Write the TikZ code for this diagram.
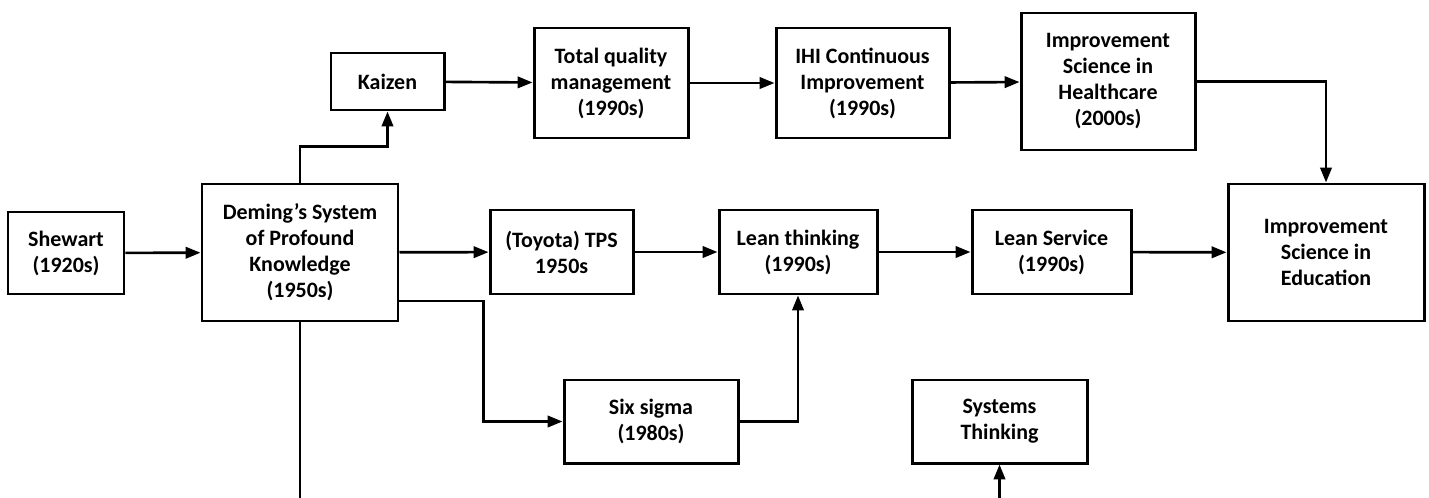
\documentclass[tikz,border=0pt]{standalone}
\usepackage{fontspec}
\setmainfont{Carlito}
\usetikzlibrary{arrows.meta}

\begin{document}
\begin{tikzpicture}[x=0.02cm, y=-0.02cm,
  box/.style={draw, line width=1.7pt, align=center, inner sep=0pt,
    font=\bfseries\fontsize{12.5}{14.8}\selectfont},
  link/.style={line width=1.5pt, -{Triangle[length=8.5pt,width=6.5pt]}}]%
\useasboundingbox (0, 0) rectangle (1429, 497);%
\node[box, minimum width=116*0.02cm, minimum height=82*0.02cm] (shewart) at (66, 253) {Shewart\\(1920s)};%
\node[box, minimum width=196*0.02cm, minimum height=137*0.02cm] (deming) at (300, 252.5) {Deming’s System\\of Profound\\Knowledge\\(1950s)};%
\node[box, minimum width=113*0.02cm, minimum height=57*0.02cm] (kaizen) at (387.5, 81.5) {Kaizen};%
\node[box, minimum width=154*0.02cm, minimum height=110*0.02cm] (tqm) at (611, 83) {Total quality\\management\\(1990s)};%
\node[box, minimum width=173*0.02cm, minimum height=110*0.02cm] (ihi) at (862.5, 83) {IHI Continuous\\Improvement\\(1990s)};%
\node[box, minimum width=174*0.02cm, minimum height=137*0.02cm] (health) at (1108, 81.5) {Improvement\\Science in\\Healthcare\\(2000s)};%
\node[box, minimum width=143*0.02cm, minimum height=84*0.02cm] (tps) at (561.5, 252) {(Toyota) TPS\\1950s};%
\node[box, minimum width=158*0.02cm, minimum height=84*0.02cm] (lean) at (798, 252) {Lean thinking\\(1990s)};%
\node[box, minimum width=159*0.02cm, minimum height=84*0.02cm] (service) at (1051.5, 252) {Lean Service\\(1990s)};%
\node[box, minimum width=196*0.02cm, minimum height=137*0.02cm] (education) at (1326, 252.5) {Improvement\\Science in\\Education};%
\node[box, minimum width=174*0.02cm, minimum height=83*0.02cm] (sixsigma) at (651, 421.5) {Six sigma\\(1980s)};%
\node[box, minimum width=175*0.02cm, minimum height=83*0.02cm] (systems) at (999.5, 421.5) {Systems\\Thinking};%
% ends cut off at the lower edge
\coordinate (demingend) at (300, 500);%
\coordinate (systemsend) at (999.5, 500);%
% middle row
\draw[link] (shewart) -- (deming);%
\draw[link] (deming) -- (tps);%
\draw[link] (tps) -- (lean);%
\draw[link] (lean) -- (service);%
\draw[link] (service) -- (education);%
% top row
\draw[link] (deming.north) -- ++(0, -36) -| (kaizen.south);%
\draw[link] (kaizen) -- (tqm);%
\draw[link] (tqm) -- (ihi);%
\draw[link] (ihi) -- (health);%
\draw[link] (health.east) -| (education.north);%
% lower row
\draw[link] ([yshift=-0.97cm]deming.east) -- ++(84, 0) |- (sixsigma.west);%
\draw[link] (sixsigma.east) -| (lean.south);%
\draw[line width=1.5pt] (deming.south) -- (demingend);%
\draw[link] (systemsend) -- (systems.south);%
\end{tikzpicture}
\end{document}
